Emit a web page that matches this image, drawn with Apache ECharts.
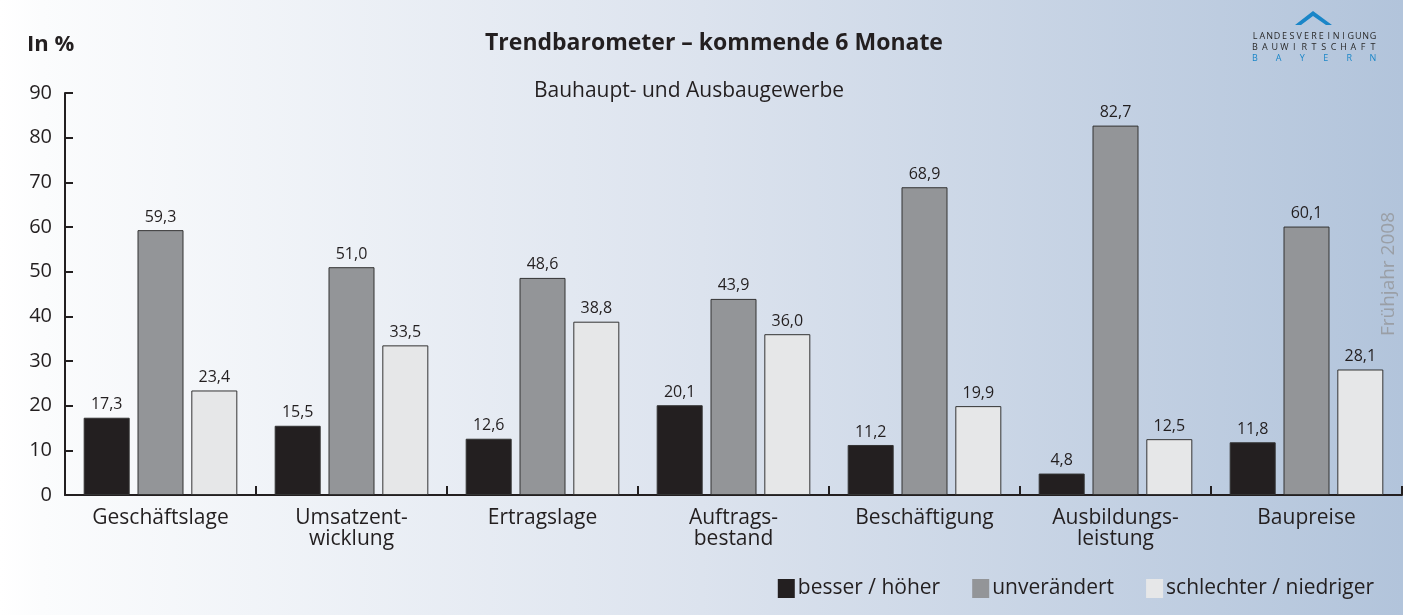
<!DOCTYPE html>
<html>
<head>
<meta charset="utf-8">
<script src="https://cdn.jsdelivr.net/npm/echarts@6/dist/echarts.min.js"></script>
<style>html,body{margin:0;padding:0;background:#fff}#c{width:1419px;height:615px}</style>
</head>
<body>
<div id="c"></div>
<script>
const categories = ['Geschäftslage', 'Umsatzent-\nwicklung', 'Ertragslage', 'Auftrags-\nbestand', 'Beschäftigung', 'Ausbildungs-\nleistung', 'Baupreise'];
const besser = [17.3, 15.5, 12.6, 20.1, 11.2, 4.8, 11.8];
const unveraendert = [59.3, 51.0, 48.6, 43.9, 68.9, 82.7, 60.1];
const schlechter = [23.4, 33.5, 38.8, 36.0, 19.9, 12.5, 28.1];
const seriesNames = ['besser / höher', 'unverändert', 'schlechter / niedriger'];
const yTicks = [0, 10, 20, 30, 40, 50, 60, 70, 80, 90];

const FONT = '"Open Sans", "Noto Sans", sans-serif';
const colors = ['#231f20', '#939598', '#e6e7e8'];
const chart = echarts.init(document.getElementById('c'), null, {renderer: 'canvas'});

function barSeries(name, data, i) {
  return {
    name: name, type: 'bar', data: data, barWidth: 46, barGap: '17%',
    itemStyle: {color: colors[i], borderColor: '#333', borderWidth: 1},
    label: {show: true, position: 'top', distance: 5, fontFamily: FONT, fontSize: 16, color: '#231f20',
      formatter: p => p.value.toFixed(1).replace('.', ',')}
  };
}

const logoLetters = [];
function spaced(str, y, color, x0, x1) {
  const n = str.length;
  for (let i = 0; i < n; i++) {
    logoLetters.push({type: 'text', x: x0 + (x1 - x0) * i / (n - 1), y: y,
      style: {text: str[i], fill: color, font: '9px ' + FONT, textAlign: 'center', textVerticalAlign: 'middle'}});
  }
}
spaced('LANDESVEREINIGUNG', 36, '#2a2a2a', 1255, 1373);
spaced('BAUWIRTSCHAFT', 47, '#2a2a2a', 1255, 1373);
spaced('BAYERN', 58, '#1a86c8', 1255, 1373);

chart.setOption({
  backgroundColor: '#ffffff',
  animation: false,
  graphic: [
    {type: 'rect', z: -10, shape: {x: 0, y: 0, width: 1403, height: 615},
      style: {fill: new echarts.graphic.LinearGradient(0, 0, 1, 0, [
        {offset: 0, color: '#ffffff'}, {offset: 0.03, color: '#fbfcfd'}, {offset: 0.5, color: '#dce3ee'}, {offset: 1, color: '#b2c4db'}])}},
    {type: 'text', x: 27, y: 45, style: {text: 'In %', font: 'bold 22px ' + FONT, fill: '#231f20', textVerticalAlign: 'middle'}},
    {type: 'text', x: 714, y: 43, style: {text: 'Trendbarometer – kommende 6 Monate', font: 'bold 23px ' + FONT, fill: '#231f20', textAlign: 'center', textVerticalAlign: 'middle'}},
    {type: 'text', x: 689, y: 91, style: {text: 'Bauhaupt- und Ausbaugewerbe', font: '21px ' + FONT, fill: '#231f20', textAlign: 'center', textVerticalAlign: 'middle'}},
    {type: 'text', x: 1389, y: 274, rotation: Math.PI / 2, style: {text: 'Frühjahr 2008', font: '19px ' + FONT, fill: '#9a9fa6', textAlign: 'center', textVerticalAlign: 'middle'}},
    {type: 'polygon', shape: {points: [[1295, 25], [1313, 11], [1332, 25], [1326, 25], [1313, 16], [1301, 25]]}, style: {fill: '#1a86c8'}},
    ...logoLetters
  ],
  grid: {left: 65, right: 17, top: 93, bottom: 120},
  legend: {
    data: seriesNames, right: 40, top: 573, itemWidth: 17, itemHeight: 19, itemGap: 32,
    icon: 'rect', itemStyle: {borderWidth: 0},
    textStyle: {fontFamily: FONT, fontSize: 21, color: '#231f20', padding: [0, 0, 0, -2]}
  },
  xAxis: {
    type: 'category', data: categories,
    axisLine: {lineStyle: {color: '#231f20', width: 2}},
    axisTick: {show: true, inside: true, length: 9, interval: 0, lineStyle: {color: '#231f20', width: 2}},
    axisLabel: {fontFamily: FONT, fontSize: 21, color: '#231f20', margin: 13, lineHeight: 21, interval: 0}
  },
  yAxis: {
    type: 'value', min: 0, max: 90, interval: 10,
    axisLine: {show: true, lineStyle: {color: '#231f20', width: 2}},
    axisTick: {show: true, inside: true, length: 8, lineStyle: {color: '#231f20', width: 2}},
    splitLine: {show: false},
    axisLabel: {fontFamily: FONT, fontSize: 20, color: '#231f20', margin: 13,
      formatter: v => yTicks.includes(v) ? String(v) : ''}
  },
  series: [barSeries(seriesNames[0], besser, 0), barSeries(seriesNames[1], unveraendert, 1), barSeries(seriesNames[2], schlechter, 2)]
});
</script>
</body>
</html>
